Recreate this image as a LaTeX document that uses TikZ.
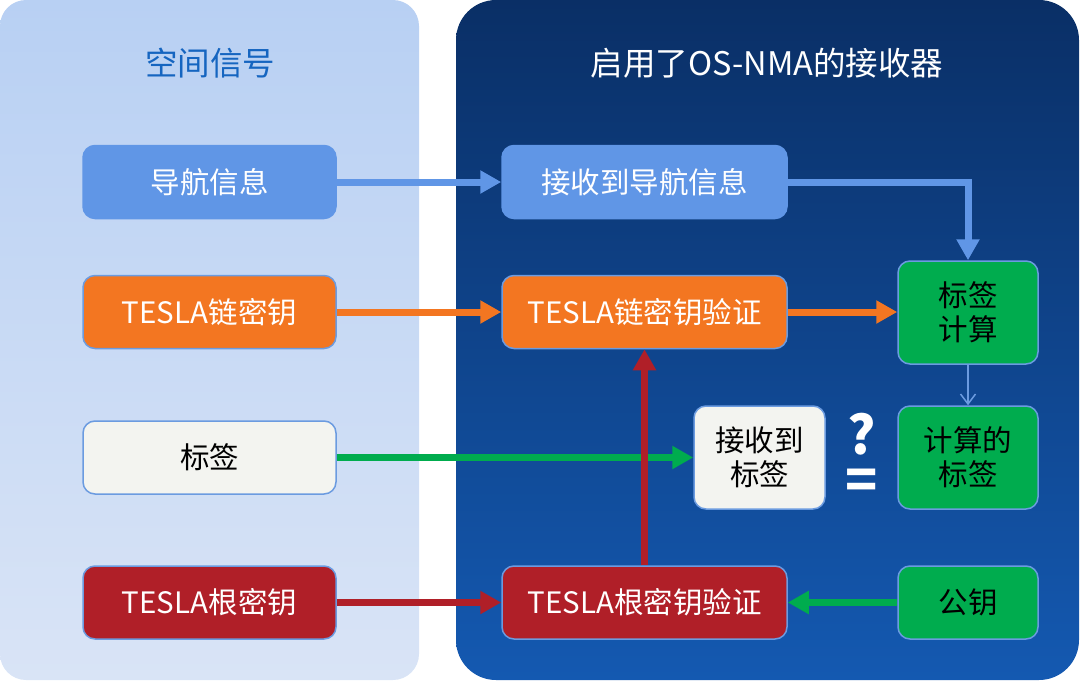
\documentclass[tikz,border=0pt]{standalone}
\usepackage{fontspec}
\setmainfont{Noto Sans CJK SC}
\usetikzlibrary{arrows.meta}
\definecolor{lpTop}{HTML}{B8D0F3}
\definecolor{lpBot}{HTML}{D9E4F6}
\definecolor{rpTop}{HTML}{0A2F66}
\definecolor{rpBot}{HTML}{1459B1}
\definecolor{navblue}{HTML}{6096E6}
\definecolor{edgeblue}{HTML}{6B9BE0}
\definecolor{orng}{HTML}{F37621}
\definecolor{dred}{HTML}{B01F28}
\definecolor{grn}{HTML}{00AC4E}
\definecolor{offwhite}{HTML}{F3F4F0}
\definecolor{titleblue}{HTML}{1565C0}
\tikzset{
  box/.style={draw=edgeblue, line width=1.5pt, rounded corners=12pt, inner sep=0pt,
    align=center, font=\fontsize{29.5}{34}\selectfont},
  wide/.style={box, minimum width=253pt, minimum height=73pt},
  rwide/.style={box, minimum width=285pt, minimum height=73pt},
  sq/.style={box, minimum width=140pt, minimum height=103pt},
  sqs/.style={box, minimum width=140pt, minimum height=73pt},
  mid/.style={box, minimum width=131pt, minimum height=103pt},
  navbox/.style={fill=navblue, draw=navblue, text=white},
  orbox/.style={fill=orng, text=white},
  redbox/.style={fill=dred, text=white},
  whbox/.style={fill=offwhite, text=black},
  gnbox/.style={fill=grn, text=black},
  thick arrow/.style={line width=7pt, -{Triangle[length=21pt,width=22pt]}},
  thin arrow/.style={line width=1.5pt, -{Straight Barb[length=10pt,width=15pt]}},
  ttl/.style={font=\fontsize{32.5}{38}\selectfont},
  sym/.style={text=white, inner sep=0pt, align=center, font=\fontsize{53}{45}\selectfont\bfseries}
}
\begin{document}
\begin{tikzpicture}[x=1pt,y=-1pt]
\useasboundingbox (0,0) rectangle (1080,681);
% panels
\shade[top color=lpTop, bottom color=lpBot, rounded corners=26pt] (0,0) rectangle (419,680);
\shade[top color=rpTop, bottom color=rpBot, rounded corners=40pt] (456,0) rectangle (1079,680);
% titles
\node[ttl, text=titleblue] (tl) at (210,63) {空间信号};
\node[ttl, text=white] (tr) at (767,63) {启用了OS-NMA的接收器};
% left boxes
\node[wide, navbox] (nav) at (209.5,182) {导航信息};
\node[wide, orbox] (chain) at (209.5,312) {TESLA链密钥};
\node[wide, whbox] (tag) at (209.5,457.5) {标签};
\node[wide, redbox] (root) at (209.5,602.5) {TESLA根密钥};
% right boxes
\node[rwide, navbox] (rnav) at (644.5,182) {接收到导航信息};
\node[rwide, orbox] (vchain) at (644.5,312) {TESLA链密钥验证};
\node[rwide, redbox] (vroot) at (644.5,602.5) {TESLA根密钥验证};
\node[mid, whbox] (rtag) at (759.5,457.5) {接收到\\标签};
\node[sq, gnbox] (calc) at (968,312.5) {标签\\计算};
\node[sq, gnbox] (ctag) at (968,457.5) {计算的\\标签};
\node[sqs, gnbox] (pk) at (968,602.5) {公钥};
% question / equal
\node[sym] (qeq) at (862,456) {?\\=};
% connectors
\coordinate (corner) at (calc.north |- rnav.east);
\draw[thick arrow, navblue] (nav.east) -- (rnav.west);
\draw[thick arrow, navblue] (rnav.east) -- (corner) -- (calc.north);
\draw[thick arrow, orng] (chain.east) -- (vchain.west);
\draw[thick arrow, orng] (vchain.east) -- (calc.west |- vchain.east);
\draw[thick arrow, grn] (tag.east) -- (rtag.west);
\draw[thick arrow, dred] (root.east) -- (vroot.west);
\draw[thick arrow, grn] (pk.west) -- (vroot.east);
\draw[thick arrow, dred] (vroot.north) -- (vchain.south);
\draw[thin arrow, edgeblue] (calc.south) -- (ctag.north);
\end{tikzpicture}
\end{document}
